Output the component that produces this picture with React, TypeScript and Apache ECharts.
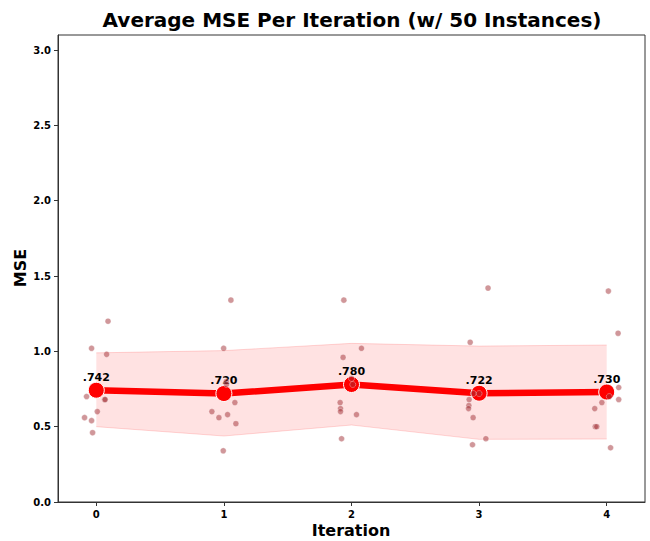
import React, { useEffect, useRef } from "react";
import * as echarts from "echarts";

const iterations = [0, 1, 2, 3, 4];
const meanMSE = [0.742, 0.72, 0.78, 0.722, 0.73];
const bandUpper = [0.99, 1.005, 1.053, 1.035, 1.042];
const bandLower = [0.5, 0.438, 0.511, 0.416, 0.418];

const instY0 = [1.2, 1.02, 0.98, 0.7, 0.68, 0.68, 0.6, 0.56, 0.54, 0.46];
const instJ0 = [0.092, -0.037, 0.081, -0.076, 0.065, 0.07, 0.008, -0.092, -0.037, -0.029];
const instY1 = [1.34, 1.02, 0.8, 0.78, 0.66, 0.6, 0.58, 0.56, 0.52, 0.34];
const instJ1 = [0.055, -0.002, 0.018, 0.02, 0.086, -0.094, 0.029, -0.039, 0.094, -0.005];
const instY2 = [1.34, 1.02, 0.96, 0.82, 0.78, 0.66, 0.62, 0.6, 0.58, 0.42];
const instJ2 = [-0.06, 0.078, -0.066, 0.0, 0.01, -0.089, -0.086, -0.086, 0.039, -0.078];
const instY3 = [1.42, 1.06, 0.72, 0.72, 0.68, 0.64, 0.62, 0.56, 0.42, 0.38];
const instJ3 = [0.07, -0.07, -0.045, 0.0, -0.078, -0.08, -0.083, -0.047, 0.053, -0.052];
const instY4 = [1.4, 1.12, 0.76, 0.7, 0.68, 0.66, 0.62, 0.5, 0.5, 0.36];
const instJ4 = [0.013, 0.089, 0.094, 0.02, 0.094, -0.038, -0.094, -0.09, -0.078, 0.03];

const xTicks = [0, 1, 2, 3, 4];
const yTicks = [0, 0.5, 1.0, 1.5, 2.0, 2.5, 3.0];

const FONT = "DejaVu Sans";

export default function App() {
  const ref = useRef<HTMLDivElement>(null);
  useEffect(() => {
    if (!ref.current) return;
    const chart = echarts.init(ref.current, null, { renderer: "svg" });
    const allY = [instY0, instY1, instY2, instY3, instY4];
    const allJ = [instJ0, instJ1, instJ2, instJ3, instJ4];
    const scatterData: number[][] = [];
    allY.forEach((ys, i) => {
      ys.forEach((y, k) => scatterData.push([iterations[i] + allJ[i][k], y]));
    });

    const nameStyle = { fontFamily: FONT, fontWeight: "bold", fontSize: 16, fill: "#000" };

    chart.setOption({
      animation: false,
      backgroundColor: "#fff",
      title: {
        text: "Average MSE Per Iteration (w/ 50 Instances)",
        left: 347,
        top: 5,
        textAlign: "center",
        textStyle: { fontFamily: FONT, fontWeight: "bold", fontSize: 20, color: "#000" },
      },
      graphic: [
        {
          type: "text",
          x: 351,
          y: 530,
          style: { ...nameStyle, text: "Iteration", align: "center", verticalAlign: "middle" },
        },
        {
          type: "text",
          x: 20,
          y: 268,
          rotation: Math.PI / 2,
          style: { ...nameStyle, text: "MSE", align: "center", verticalAlign: "middle" },
        },
      ],
      grid: {
        left: 58,
        right: 5,
        top: 35,
        bottom: 39,
        show: true,
        borderColor: "#333",
        borderWidth: 1,
        backgroundColor: "transparent",
        containLabel: false,
        outerBoundsMode: "none",
      },
      xAxis: {
        type: "value",
        min: -0.3,
        max: 4.3,
        axisLine: { show: true, onZero: false, lineStyle: { color: "#333" } },
        axisTick: { show: true, length: 4, customValues: xTicks, lineStyle: { color: "#333" } },
        axisLabel: {
          customValues: xTicks,
          fontFamily: FONT,
          fontWeight: "bold",
          fontSize: 10,
          color: "#000",
          margin: 7,
          formatter: (v: number) => String(v),
        },
        splitLine: { show: false },
      },
      yAxis: {
        type: "value",
        min: 0,
        max: 3.1,
        axisLine: { show: true, onZero: false, lineStyle: { color: "#333" } },
        axisTick: { show: true, length: 4, customValues: yTicks, lineStyle: { color: "#333" } },
        axisLabel: {
          customValues: yTicks,
          fontFamily: FONT,
          fontWeight: "bold",
          fontSize: 10,
          color: "#000",
          margin: 7,
          formatter: (v: number) => v.toFixed(1),
        },
        splitLine: { show: false },
      },
      series: [
        {
          type: "custom",
          coordinateSystem: "cartesian2d",
          data: [[0, 0]],
          z: 1,
          silent: true,
          renderItem: (params: any, api: any) => {
            const up = iterations.map((x, i) => api.coord([x, bandUpper[i]]));
            const lo = iterations.map((x, i) => api.coord([x, bandLower[i]]));
            const poly = up.concat(lo.slice().reverse());
            return {
              type: "group",
              children: [
                {
                  type: "polygon",
                  shape: { points: poly },
                  style: { fill: "rgba(255,0,0,0.115)", stroke: "none" },
                },
                {
                  type: "polyline",
                  shape: { points: up },
                  style: { stroke: "rgba(255,0,0,0.15)", lineWidth: 1, fill: "none" },
                },
                {
                  type: "polyline",
                  shape: { points: lo },
                  style: { stroke: "rgba(255,0,0,0.15)", lineWidth: 1, fill: "none" },
                },
              ],
            };
          },
        },
        {
          type: "line",
          data: iterations.map((x, i) => [x, meanMSE[i]]),
          z: 3,
          lineStyle: { color: "#ff0000", width: 6.5 },
          symbol: "circle",
          symbolSize: 16,
          itemStyle: { color: "#ff0000", borderColor: "#fff", borderWidth: 1 },
          label: {
            show: true,
            position: "top",
            distance: -1,
            fontFamily: FONT,
            fontWeight: "bold",
            fontSize: 11,
            color: "#000",
            formatter: (p: any) => p.value[1].toFixed(3).replace(/^0/, ""),
          },
        },
        {
          type: "scatter",
          data: scatterData,
          z: 4,
          symbolSize: 6,
          itemStyle: {
            color: "rgba(160,45,50,0.62)",
            borderColor: "rgba(255,255,255,0.8)",
            borderWidth: 0.5,
          },
        },
      ],
    });
    return () => chart.dispose();
  }, []);
  return <div ref={ref} style={{ width: 650, height: 541, position: "fixed", left: 0, top: 0 }} />;
}
